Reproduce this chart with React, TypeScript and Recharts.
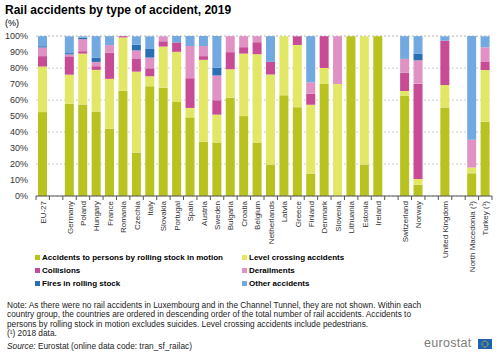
import React from 'react'
import { BarChart, Bar, XAxis, YAxis, CartesianGrid } from 'recharts'

const countries = [
  'EU-27', ' ', 'Germany', 'Poland', 'Hungary', 'France', 'Romania', 'Czechia', 'Italy', 'Slovakia',
  'Portugal', 'Spain', 'Austria', 'Sweden', 'Bulgaria', 'Croatia', 'Belgium', 'Netherlands', 'Latvia',
  'Greece', 'Finland', 'Denmark', 'Slovenia', 'Lithuania', 'Estonia', 'Ireland', '  ', 'Switzerland',
  'Norway', '   ', 'United Kingdom', '    ', 'North Macedonia (¹)', 'Turkey (¹)',
]

const persons = [52.5, null, 57.7, 57.3, 52.7, 42.1, 65.9, 27.2, 68.6, 67.8, 58.8, 49.2, 33.9, 33.5, 61.5, 50.0, 33.5, 19.7, 63.0, 55.6, 14.0, 70.1, 0, 100, 19.7, 100, null, 62.8, 7.1, null, 55.4, null, 14.2, 46.4]
const levelCrossing = [28.5, null, 18.2, 31.8, 26.2, 31.2, 33.3, 50.6, 6.3, 25.7, 31.4, 5.9, 51.3, 17.4, 17.8, 39.1, 55.2, 56.3, 37.0, 38.9, 43.1, 10.0, 70.1, 0, 80.3, 0, null, 2.9, 3.6, null, 14.0, null, 3.6, 32.4]
const collisions = [6.5, null, 11.5, 1.5, 2.3, 16.3, 0.8, 7.9, 5.0, 3.3, 5.9, 18.6, 2.3, 9.0, 10.7, 4.0, 7.5, 7.9, 0, 5.4, 6.9, 19.9, 0, 0, 0, 0, null, 11.5, 59.6, null, 27.8, null, 0, 5.4]
const derailments = [5.4, null, 1.2, 7.5, 2.7, 4.8, 0, 5.4, 6.7, 3.1, 0, 20.1, 6.3, 15.5, 10.0, 6.9, 3.8, 0, 0, 0, 7.1, 0, 29.9, 0, 0, 0, null, 8.6, 14.6, null, 0, null, 17.4, 8.8]
const fires = [0.8, null, 0.8, 1.0, 2.7, 0, 0, 3.6, 5.4, 0, 0, 0, 0, 4.8, 0, 0, 0, 0, 0, 0, 0, 0, 0, 0, 0, 0, null, 0, 4.0, null, 0, null, 0, 0]
const other = [6.3, null, 10.5, 0.8, 13.4, 5.6, 0, 5.2, 7.9, 0, 4.0, 6.3, 6.3, 19.9, 0, 0, 0, 16.1, 0, 0, 28.9, 0, 0, 0, 0, 0, null, 14.2, 11.1, null, 2.7, null, 64.9, 6.9]

const yTicks = [0, 10, 20, 30, 40, 50, 60, 70, 80, 90, 100]

const noteLines = [
  'Note: As there were no rail accidents in Luxembourg and in the Channel Tunnel, they are not shown. Within each',
  'country group, the countries are ordered in descending order of the total number of rail accidents. Accidents to',
  'persons by rolling stock in motion excludes suicides. Level crossing accidents include pedestrians.',
  '(¹) 2018 data.',
]

const series = [
  { key: 'persons', name: 'Accidents to persons by rolling stock in motion', color: '#b9c31f', values: persons },
  { key: 'level', name: 'Level crossing accidents', color: '#e2e766', values: levelCrossing },
  { key: 'collisions', name: 'Collisions', color: '#c84b96', values: collisions },
  { key: 'derailments', name: 'Derailments', color: '#e092c4', values: derailments },
  { key: 'fires', name: 'Fires in rolling stock', color: '#2a6fb5', values: fires },
  { key: 'other', name: 'Other accidents', color: '#72a9e0', values: other },
]

const data = countries.map((name, i) => {
  const row: any = { name }
  series.forEach(s => { row[s.key] = s.values[i] })
  return row
})

const FONT = '"Liberation Sans", Arial, sans-serif'
const W = 500
const H = 354
const M = { top: 36, right: 8, left: 0, bottom: 78 }
const Y_W = 36
const X_H = 80
const AXIS_Y = H - M.bottom - X_H
const SLOT = (W - M.left - M.right - Y_W) / countries.length

const XTick = (props: any) => {
  const { x, payload, index } = props
  return (
    <g>
      <line x1={x - SLOT / 2} x2={x - SLOT / 2} y1={AXIS_Y} y2={AXIS_Y + 4} stroke="#555" />
      {index === countries.length - 1 && (
        <line x1={x + SLOT / 2} x2={x + SLOT / 2} y1={AXIS_Y} y2={AXIS_Y + 4} stroke="#555" />
      )}
      <text
        transform={`translate(${x + 3},${AXIS_Y + 5}) rotate(-90)`}
        textAnchor="end"
        fontSize={8}
        fill="#333"
        fontFamily={FONT}
      >
        {payload.value.trim()}
      </text>
    </g>
  )
}

export default function App() {
  return (
    <div style={{ position: 'absolute', left: 0, top: 0, width: W, height: H, background: '#fff', fontFamily: FONT, overflow: 'hidden' }}>
      <div style={{ position: 'absolute', left: 5, top: 3, fontSize: 12, fontWeight: 'bold', color: '#000' }}>
        Rail accidents by type of accident, 2019
      </div>
      <div style={{ position: 'absolute', left: 5, top: 18, fontSize: 9, color: '#000' }}>(%)</div>

      <BarChart width={W} height={H} data={data} margin={M} barSize={9}>
        <CartesianGrid vertical={false} stroke="#ccc" strokeDasharray="2 2" />
        <XAxis
          dataKey="name"
          interval={0}
          height={X_H}
          tickLine={false}
          axisLine={{ stroke: '#555' }}
          tick={<XTick />}
        />
        <YAxis
          width={Y_W}
          domain={[0, 100]}
          ticks={yTicks}
          tickFormatter={(v: number) => `${v}%`}
          axisLine={false}
          tickLine={false}
          tick={{ fontSize: 9, fill: '#333', fontFamily: FONT }}
        />
        {series.map(s => (
          <Bar key={s.key} dataKey={s.key} name={s.name} stackId="a" fill={s.color} isAnimationActive={false} />
        ))}
      </BarChart>

      {series.map((s, i) => (
        <div
          key={s.key}
          style={{
            position: 'absolute',
            left: i % 2 === 0 ? 35 : 242,
            top: 253 + Math.floor(i / 2) * 13,
            fontSize: 8,
            fontWeight: 'bold',
            color: '#000',
            display: 'flex',
            alignItems: 'center',
            whiteSpace: 'nowrap',
          }}
        >
          <span style={{ display: 'inline-block', width: 5, height: 5, background: s.color, marginRight: 2 }} />
          {s.name}
        </div>
      ))}

      <div style={{ position: 'absolute', left: 7, top: 301, fontSize: 8.3, lineHeight: '9.4px', color: '#222', whiteSpace: 'nowrap' }}>
        {noteLines.map((l, i) => <div key={i}>{l}</div>)}
      </div>
      <div style={{ position: 'absolute', left: 7, top: 341, fontSize: 8.3, color: '#222' }}>
        <i>Source:</i> Eurostat (online data code: tran_sf_railac)
      </div>

      <div style={{ position: 'absolute', left: 424, top: 336, fontSize: 12.5, color: '#7b7b7b', letterSpacing: 0.3 }}>eurostat</div>
      <svg style={{ position: 'absolute', left: 478, top: 339 }} width={14} height={10}>
        <rect width={14} height={10} fill="#1f62b0" />
        <circle cx={7} cy={5} r={3} fill="none" stroke="#f5d000" strokeWidth={1} strokeDasharray="1 0.6" />
      </svg>
    </div>
  )
}
